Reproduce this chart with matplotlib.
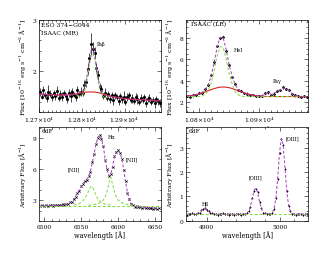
import numpy as np
import matplotlib
matplotlib.use("Agg")
import matplotlib.pyplot as plt
from matplotlib.ticker import MultipleLocator, FixedLocator

plt.rcParams['font.family'] = ['DejaVu Serif']
plt.rcParams['mathtext.fontset'] = 'dejavuserif'

# ---- ESO 374-G044, ISAAC (MR): Pa beta
mr_wave = np.arange(12702, 12983, 4)
mr_flux = [1.59, 1.50, 1.62, 1.53, 1.48, 1.60, 1.56, 1.49, 1.58, 1.52,
           1.61, 1.47, 1.55, 1.50, 1.58, 1.52, 1.46, 1.57, 1.51, 1.60,
           1.54, 1.49, 1.62, 1.55, 1.60, 1.58, 1.72, 1.78, 2.04, 2.26,
           2.52, 2.44, 2.36, 2.06, 1.92, 1.68, 1.65, 1.52, 1.58, 1.48,
           1.56, 1.46, 1.54, 1.44, 1.53, 1.50, 1.42, 1.52, 1.45, 1.50,
           1.40, 1.49, 1.53, 1.43, 1.47, 1.41, 1.50, 1.46, 1.39, 1.48,
           1.43, 1.49, 1.38, 1.45, 1.47, 1.40, 1.44, 1.37, 1.46, 1.41,
           1.38]
mr_err = [0.07, 0.05, 0.09, 0.06, 0.08, 0.12, 0.06, 0.07, 0.05, 0.08,
          0.10, 0.06, 0.07, 0.09, 0.05, 0.06, 0.08, 0.07, 0.11, 0.06,
          0.05, 0.07, 0.09, 0.06, 0.08, 0.07, 0.10, 0.09, 0.12, 0.10,
          0.22, 0.12, 0.11, 0.09, 0.10, 0.08, 0.07, 0.06, 0.09, 0.07,
          0.05, 0.08, 0.06, 0.10, 0.07, 0.06, 0.08, 0.05, 0.07, 0.11,
          0.06, 0.08, 0.07, 0.05, 0.09, 0.06, 0.07, 0.10, 0.06, 0.08,
          0.05, 0.07, 0.09, 0.06, 0.08, 0.07, 0.05, 0.10, 0.06, 0.07,
          0.08]
mr_total = [1.55, 1.55, 1.55, 1.54, 1.54, 1.54, 1.54, 1.54, 1.54, 1.53,
            1.53, 1.53, 1.53, 1.53, 1.53, 1.53, 1.53, 1.54, 1.54, 1.54,
            1.55, 1.55, 1.56, 1.57, 1.58, 1.61, 1.67, 1.80, 2.00, 2.23,
            2.40, 2.45, 2.33, 2.10, 1.88, 1.71, 1.62, 1.57, 1.55, 1.53,
            1.52, 1.51, 1.50, 1.50, 1.49, 1.48, 1.48, 1.47, 1.47, 1.46,
            1.46, 1.46, 1.45, 1.45, 1.45, 1.45, 1.45, 1.44, 1.44, 1.44,
            1.44, 1.44, 1.43, 1.43, 1.43, 1.43, 1.43, 1.42, 1.42, 1.42,
            1.42]
mr_broad = [1.55, 1.55, 1.55, 1.54, 1.54, 1.54, 1.54, 1.54, 1.54, 1.53,
            1.53, 1.53, 1.53, 1.53, 1.53, 1.53, 1.53, 1.54, 1.54, 1.54,
            1.55, 1.55, 1.56, 1.57, 1.57, 1.58, 1.58, 1.59, 1.59, 1.59,
            1.59, 1.59, 1.59, 1.58, 1.58, 1.57, 1.56, 1.55, 1.54, 1.53,
            1.52, 1.51, 1.50, 1.50, 1.49, 1.48, 1.48, 1.47, 1.47, 1.46,
            1.46, 1.46, 1.45, 1.45, 1.45, 1.45, 1.45, 1.44, 1.44, 1.44,
            1.44, 1.44, 1.43, 1.43, 1.43, 1.43, 1.43, 1.42, 1.42, 1.42,
            1.42]
mr_narrow_wave = mr_wave[22:41]
mr_narrow = [1.51, 1.51, 1.51, 1.54, 1.60, 1.71, 1.91, 2.13, 2.31, 2.35,
             2.23, 2.01, 1.79, 1.63, 1.54, 1.50, 1.48, 1.48, 1.48]

# ---- ISAAC (LR): HeI and Pa gamma
lr_wave = np.arange(10780, 10981, 5)
lr_flux = [2.52, 2.47, 2.60, 2.63, 2.80, 2.86, 3.20, 3.55, 4.52, 5.70,
           7.25, 8.00, 8.12, 6.80, 5.50, 4.35, 3.65, 3.15, 3.02, 2.80,
           2.78, 2.63, 2.66, 2.52, 2.58, 2.55, 2.82, 2.88, 2.66, 2.78,
           2.98, 3.10, 3.35, 3.22, 3.08, 2.76, 2.60, 2.57, 2.48, 2.52,
           2.46]
lr_err = 0.1
lr_total = [2.55, 2.58, 2.62, 2.68, 2.75, 2.89, 3.14, 3.60, 4.45, 5.75,
            7.18, 8.08, 8.00, 6.88, 5.43, 4.40, 3.60, 3.20, 2.99, 2.84,
            2.75, 2.68, 2.62, 2.58, 2.55, 2.60, 2.75, 2.85, 2.70, 2.80,
            2.95, 3.15, 3.30, 3.25, 3.05, 2.80, 2.62, 2.55, 2.50, 2.50,
            2.48]
lr_narrow = [2.5, 2.5, 2.5, 2.5, 2.5, 2.55, 2.7, 3.05, 3.8, 5.0,
             6.35, 7.2, 7.1, 6.0, 4.6, 3.65, 2.95, 2.65, 2.55, 2.5,
             2.5, 2.5, 2.5, 2.5, 2.5, 2.5, 2.5, 2.5, 2.5, 2.5,
             2.5, 2.5, 2.5, 2.5, 2.5, 2.5, 2.5, 2.5, 2.5, 2.5,
             2.5]
lr_broad = [2.55, 2.58, 2.62, 2.68, 2.75, 2.84, 2.94, 3.05, 3.15, 3.25,
            3.33, 3.38, 3.40, 3.38, 3.33, 3.25, 3.15, 3.05, 2.94, 2.84,
            2.75, 2.68, 2.62, 2.58, 2.55, 2.53, 2.52, 2.5, 2.5, 2.5,
            2.5, 2.5, 2.5, 2.5, 2.5, 2.5, 2.5, 2.5, 2.5, 2.5,
            2.5]

# ---- 6dF: H alpha + [NII]
ha_wave = np.arange(6495, 6656, 2.5)
ha_flux = [2.42, 2.53, 2.47, 2.55, 2.46, 2.52, 2.58, 2.49, 2.55, 2.60,
           2.51, 2.57, 2.62, 2.54, 2.66, 2.63, 2.80, 2.86, 3.15, 3.35,
           3.75, 3.95, 4.35, 4.55, 4.90, 5.00, 5.35, 5.75, 6.70, 7.45,
           8.50, 9.05, 9.35, 8.95, 8.30, 6.95, 6.05, 5.35, 5.55, 6.25,
           7.25, 7.65, 7.85, 7.55, 7.05, 5.95, 4.85, 3.75, 3.15, 2.65,
           2.55, 2.40, 2.43, 2.32, 2.38, 2.27, 2.33, 2.22, 2.31, 2.24,
           2.28, 2.20, 2.26, 2.18, 2.23]
ha_total = [2.50, 2.50, 2.50, 2.50, 2.50, 2.51, 2.51, 2.52, 2.52, 2.53,
            2.54, 2.55, 2.57, 2.59, 2.62, 2.67, 2.75, 2.90, 3.10, 3.40,
            3.70, 4.00, 4.30, 4.60, 4.85, 5.05, 5.30, 5.80, 6.60, 7.50,
            8.40, 9.10, 9.30, 9.00, 8.20, 7.00, 6.00, 5.40, 5.50, 6.30,
            7.20, 7.70, 7.80, 7.60, 7.00, 6.00, 4.80, 3.80, 3.10, 2.70,
            2.50, 2.45, 2.41, 2.38, 2.36, 2.34, 2.32, 2.31, 2.30, 2.29,
            2.28, 2.27, 2.26, 2.25, 2.24]
ha_cont = 2.5
nii1_wave = np.arange(6540, 6593, 2.5)
nii1_flux = [2.55, 2.58, 2.62, 2.70, 2.82, 2.98, 3.20, 3.50, 3.90, 4.30,
             4.35, 3.95, 3.50, 3.15, 2.95, 2.80, 2.70, 2.64, 2.60, 2.57,
             2.55, 2.53]
nii2_wave = np.arange(6560, 6623, 2.5)
nii2_flux = [2.53, 2.55, 2.57, 2.60, 2.64, 2.69, 2.77, 2.88, 3.05, 3.35,
             3.85, 4.60, 5.25, 4.60, 3.85, 3.35, 3.05, 2.88, 2.77, 2.69,
             2.64, 2.60, 2.57, 2.55, 2.53, 2.52]

# ---- 6dF: H beta + [OIII]
o3_wave = np.arange(4872.5, 5041, 2.5)
o3_flux = [0.25, 0.29, 0.27, 0.30, 0.26, 0.28, 0.31, 0.33, 0.42, 0.47,
           0.52, 0.44, 0.39, 0.30, 0.30, 0.26, 0.28, 0.25, 0.29, 0.27,
           0.30, 0.26, 0.28, 0.24, 0.29, 0.27, 0.25, 0.29, 0.26, 0.28,
           0.25, 0.28, 0.27, 0.31, 0.40, 0.57, 0.95, 1.23, 1.32, 1.16,
           0.76, 0.50, 0.33, 0.30, 0.26, 0.28, 0.27, 0.33, 0.47, 0.94,
           1.72, 2.80, 3.36, 3.13, 2.14, 1.22, 0.59, 0.38, 0.27, 0.29,
           0.25, 0.28, 0.26, 0.29, 0.24, 0.27, 0.28, 0.25]
o3_total = [0.27, 0.27, 0.27, 0.27, 0.27, 0.28, 0.30, 0.34, 0.41, 0.48,
            0.50, 0.45, 0.38, 0.32, 0.29, 0.27, 0.27, 0.27, 0.27, 0.27,
            0.27, 0.27, 0.27, 0.27, 0.27, 0.27, 0.27, 0.27, 0.27, 0.27,
            0.27, 0.27, 0.28, 0.30, 0.39, 0.59, 0.93, 1.25, 1.34, 1.14,
            0.78, 0.49, 0.34, 0.29, 0.27, 0.27, 0.28, 0.32, 0.48, 0.92,
            1.75, 2.78, 3.38, 3.11, 2.17, 1.20, 0.61, 0.36, 0.29, 0.27,
            0.27, 0.27, 0.27, 0.27, 0.27, 0.27, 0.27, 0.27]
o3_cont = 0.26

MAG = '#a33cc0'
GRN = '#7ddc3c'
RED = '#d8242a'
FS = 4.3

fig = plt.figure(figsize=(3.3, 2.55), dpi=100)
ax1 = fig.add_axes([0.118, 0.557, 0.370, 0.361])
ax2 = fig.add_axes([0.564, 0.557, 0.370, 0.361])
ax3 = fig.add_axes([0.118, 0.129, 0.370, 0.369])
ax4 = fig.add_axes([0.564, 0.129, 0.370, 0.369])


def style(ax):
    for s in ax.spines.values():
        s.set_linewidth(0.5)
    ax.tick_params(which='both', direction='in', top=True, right=True,
                   labelsize=FS, width=0.4, pad=2)
    ax.tick_params(which='major', length=3)
    ax.tick_params(which='minor', length=1.5)
    ax.set_xlabel('wavelength [Å]', fontsize=FS + 0.5, labelpad=1)


# top left
ax1.errorbar(mr_wave, mr_flux, yerr=mr_err, fmt='o', ms=1.2, color='k',
             elinewidth=0.5, capsize=0, zorder=2)
ax1.plot(mr_wave, mr_broad, color=RED, lw=0.8, zorder=3)
ax1.plot(mr_narrow_wave, mr_narrow, color=GRN, lw=0.7, ls=(0, (3, 2)), zorder=3)
ax1.plot(mr_wave, mr_total, color=MAG, lw=0.7, ls=(0, (3, 2)), zorder=4)
ax1.set_xlim(12700, 12985)
ax1.set_ylim(1.2, 3.0)
ax1.xaxis.set_major_locator(FixedLocator([12700, 12800, 12900]))
ax1.set_xticklabels(['1.27×10$^4$', '1.28×10$^4$', '1.29×10$^4$'])
ax1.xaxis.set_minor_locator(MultipleLocator(10))
ax1.yaxis.set_major_locator(MultipleLocator(1))
ax1.yaxis.set_minor_locator(MultipleLocator(0.2))
ax1.set_ylabel('Flux [10$^{-16}$ erg s$^{-1}$ cm$^{-2}$ Å$^{-1}$]', fontsize=FS + 0.3, labelpad=3)
ax1.text(0.02, 0.955, 'ESO 374−G044', transform=ax1.transAxes, fontsize=FS, va='center')
ax1.text(0.02, 0.865, 'ISAAC (MR)', transform=ax1.transAxes, fontsize=FS, va='center')
ax1.text(12834, 2.53, 'Paβ', fontsize=FS - 0.8, va='center')
style(ax1)

# top right
ax2.errorbar(lr_wave, lr_flux, yerr=lr_err, fmt='D', ms=1.3, color='k',
             mfc='none', mew=0.5, elinewidth=0.5, capsize=0, zorder=2)
ax2.plot(lr_wave, lr_broad, color=RED, lw=0.8, zorder=3)
ax2.plot(lr_wave, lr_narrow, color=GRN, lw=0.7, ls=(0, (3, 2)), zorder=3)
ax2.plot(lr_wave, lr_total, color=MAG, lw=0.7, ls=(0, (3, 2)), zorder=4)
ax2.set_xlim(10778, 10982)
ax2.set_ylim(1.05, 9.7)
ax2.xaxis.set_major_locator(FixedLocator([10800, 10900]))
ax2.set_xticklabels(['1.08×10$^4$', '1.09×10$^4$'])
ax2.xaxis.set_minor_locator(MultipleLocator(10))
ax2.yaxis.set_major_locator(MultipleLocator(2))
ax2.yaxis.set_minor_locator(MultipleLocator(0.5))
ax2.set_ylabel('Flux [10$^{-16}$ erg s$^{-1}$ cm$^{-2}$ Å$^{-1}$]', fontsize=FS + 0.3, labelpad=3)
ax2.text(0.04, 0.955, 'ISAAC (LR)', transform=ax2.transAxes, fontsize=FS, va='center')
ax2.text(10857, 6.9, 'HeI', fontsize=FS - 0.8, va='center')
ax2.text(10930, 4.05, 'Paγ', fontsize=FS - 0.8, va='center', ha='center')
style(ax2)

# bottom left
ax3.plot(ha_wave, ha_flux, 'x', ms=1.6, mew=0.5, color='k', zorder=2)
ax3.axhline(ha_cont, color=GRN, lw=0.7, ls=(0, (3, 2)), zorder=3)
ax3.plot(nii1_wave, nii1_flux, color=GRN, lw=0.7, ls=(0, (3, 2)), zorder=3)
ax3.plot(nii2_wave, nii2_flux, color=GRN, lw=0.7, ls=(0, (3, 2)), zorder=3)
ax3.plot(ha_wave, ha_total, color=MAG, lw=0.7, ls=(0, (3, 2)), zorder=4)
ax3.set_xlim(6493, 6658)
ax3.set_ylim(1.0, 10.1)
ax3.xaxis.set_major_locator(MultipleLocator(50))
ax3.xaxis.set_minor_locator(MultipleLocator(10))
ax3.yaxis.set_major_locator(MultipleLocator(3))
ax3.yaxis.set_minor_locator(MultipleLocator(1))
ax3.set_ylabel('Arbitrary Flux [Å$^{-1}$]', fontsize=FS + 0.3, labelpad=3)
ax3.text(0.02, 0.96, '6dF', transform=ax3.transAxes, fontsize=FS, va='center')
ax3.text(6586, 9.2, 'Hα', fontsize=FS - 0.8, va='center')
ax3.text(6540, 6.1, '[NII]', fontsize=FS - 0.8, va='center', ha='center')
ax3.text(6618, 7.0, '[NII]', fontsize=FS - 0.8, va='center', ha='center')
style(ax3)

# bottom right
ax4.errorbar(o3_wave, o3_flux, yerr=0.04, fmt='+', ms=2.0, mew=0.5, color='k',
             elinewidth=0.5, capsize=0, zorder=2)
ax4.axhline(o3_cont, color=GRN, lw=0.7, ls=(0, (3, 2)), zorder=3)
ax4.plot(o3_wave, o3_total, color=MAG, lw=0.7, ls=(0, (3, 2)), zorder=4)
ax4.set_xlim(4871.5, 5039.5)
ax4.set_ylim(-0.02, 3.85)
ax4.xaxis.set_major_locator(MultipleLocator(100))
ax4.xaxis.set_minor_locator(MultipleLocator(20))
ax4.yaxis.set_major_locator(MultipleLocator(1))
ax4.yaxis.set_minor_locator(MultipleLocator(0.2))
ax4.set_ylabel('Arbitrary Flux [Å$^{-1}$]', fontsize=FS + 0.3, labelpad=3)
ax4.text(0.02, 0.96, '6dF', transform=ax4.transAxes, fontsize=FS, va='center')
ax4.text(4897.5, 0.72, 'Hβ', fontsize=FS - 0.8, va='center', ha='center')
ax4.text(4967, 1.81, '[OIII]', fontsize=FS - 0.8, va='center', ha='center')
ax4.text(5017.5, 3.41, '[OIII]', fontsize=FS - 0.8, va='center', ha='center')
style(ax4)

fig.savefig('out.png', dpi=100)
